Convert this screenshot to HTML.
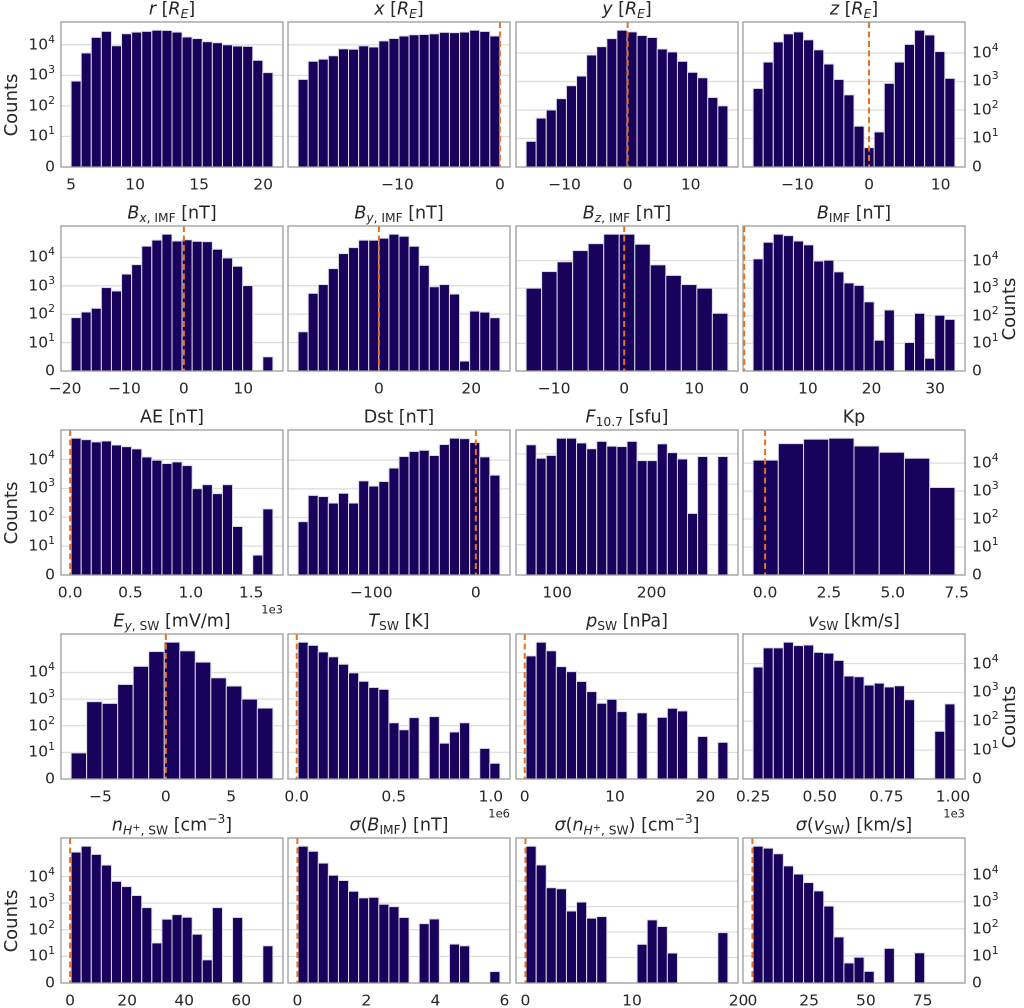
<!DOCTYPE html>
<html><head><meta charset="utf-8">
<style>
html,body{margin:0;padding:0;background:#fff;}
#wrap{position:relative;width:1024px;height:1008px;overflow:hidden;font-family:"DejaVu Sans","Liberation Sans",sans-serif;color:#262626;}
svg{position:absolute;left:0;top:0;}
.t{position:absolute;white-space:nowrap;line-height:1;}
.t sub{font-size:70%;vertical-align:-0.3em;line-height:0;}
.t sup{font-size:70%;vertical-align:0.6em;line-height:0;}
.t sub sup{font-size:80%;vertical-align:0.4em;}
</style></head>
<body>
<div id="wrap">
<svg id="svg" width="1024" height="1008"></svg>
</div>
<script>
// ---------- data (counts per bin) ----------
const countsR    = [650,5400,17500,27500,9300,23000,26000,27500,30000,29500,26000,18000,16000,12600,11700,10000,9100,8900,3100,1230];
const countsX    = [740,2900,3400,4400,7400,7200,9300,8500,13500,16200,19500,21400,21900,23000,25700,25100,26300,30200,27500,19500];
const countsY    = [9,52,100,250,710,1550,8500,16700,32000,63000,55000,41000,35000,13800,10900,5100,2100,1350,275,140];
const countsZ    = [570,4800,24500,47000,55000,29000,12900,4100,1180,340,27,6.8,17,860,4800,20000,63000,43000,11200,1290];
const countsBx   = [76,120,162,870,660,2600,5600,25000,41000,66000,38000,42000,37000,36000,19500,9600,4900,1020,0,5];
const countsBy   = [24,540,1100,4000,13500,22000,40000,40000,47000,65000,55000,24500,5200,920,1100,510,3.5,128,118,75];
const countsBz   = [1000,4000,9000,23000,41000,90000,90000,39000,7000,2900,1350,1000,123];
const countsBimf = [11500,46000,90000,80000,51000,37000,9600,10300,3900,1550,1260,320,13,162,0,10.8,123,4.6,105,74];
const countsAE   = [55000,49000,41000,44000,32000,28000,23500,12300,9500,7300,8300,6200,980,1350,660,1350,48,0,6.9,195];
const countsDst  = [72,590,540,320,700,320,1900,1250,1800,5300,13400,20000,22000,14500,35000,58000,56000,41000,13000,3000];
const countsF107 = [20000,7200,8900,33000,33000,23000,14800,26000,18000,17500,26000,6000,6000,21500,11000,6800,108,8200,0,8200];
const countsKp   = [12800,50000,72000,78000,41000,24500,15000,1350];
const countsEy   = [9.8,800,690,3550,17000,61000,137000,65000,24500,6300,3100,1000,460];
const countsTsw  = [134000,102000,58000,38000,20000,9500,4600,2700,2300,128,70,200,0,218,22,58,128,0,14,5.9];
const countsPsw  = [43000,141000,67000,17000,11000,4700,1950,710,1000,345,0,310,0,210,460,365,0,40,0,24];
const countsVsw  = [7600,35000,35000,55000,42000,44000,24500,23000,12900,3700,3500,1800,2100,1550,1700,560,0,0,45,400];
const countsNH   = [83000,138000,68000,27000,6600,4200,1940,680,32,250,370,295,68,8.7,680,0,290,0,0,25];
const countsSB   = [138000,89000,32000,11200,7100,2800,1580,1660,910,740,290,0,170,255,0,29,25,0,0,4.3];
const countsSNH  = [234000,43000,5500,5000,670,1500,350,405,0,0,0,33,300,165,15,0,0,0,0,95];
const countsSV   = [112000,95000,59000,21000,10500,5100,2500,690,50,7.4,9.5,4.3,0,19,0,0,13,0,0,0];

const binLo = [5,-19.7,-16.1,-16.2,-19,-17.5,-14,1.4,0.008,-170,67,-0.47,-7.25,0.007,0.15,0.25,0.35,0.02,0.06,0.3];
const binHi = [20.76,0,15.9,12.0,15,26.2,14.8,33.1,1.68,23,281,7.43,8.19,1.047,22.5,1.007,71.1,5.87,19,89.2];

const xTicks = [
 [5,10,15,20],[-10,0],[-10,0,10],[-10,0,10],
 [-20,-10,0,10],[0,20],[-10,0,10],[0,10,20,30],
 [0,0.5,1,1.5],[-100,0],[100,200],[0,2.5,5,7.5],
 [-5,0,5],[0,0.5,1],[0,10,20],[0.25,0.5,0.75,1],
 [0,20,40,60],[0,2,4,6],[0,10,20],[0,25,50,75]];
const xTickDigits = [0,0,0,0, 0,0,0,0, 1,0,0,1, 0,1,0,2, 0,0,0,0];
const showZeroLine = [false,true,true,true, true,true,true,true, true,true,false,true, true,true,true,false, true,true,true,true];
const offsetText = ["","","","", "","","","", "1e3","","","", "","1e6","","1e3", "","","",""];
const titles = [
 '<i>r</i> [<i>R<sub>E</sub></i>]','<i>x</i> [<i>R<sub>E</sub></i>]','<i>y</i> [<i>R<sub>E</sub></i>]','<i>z</i> [<i>R<sub>E</sub></i>]',
 '<i>B</i><sub><i>x</i>, IMF</sub> [nT]','<i>B</i><sub><i>y</i>, IMF</sub> [nT]','<i>B</i><sub><i>z</i>, IMF</sub> [nT]','<i>B</i><sub>IMF</sub> [nT]',
 'AE [nT]','Dst [nT]','<i>F</i><sub>10.7</sub> [sfu]','Kp',
 '<i>E</i><sub><i>y</i>, SW</sub> [mV/m]','<i>T</i><sub>SW</sub> [K]','<i>p</i><sub>SW</sub> [nPa]','<i>v</i><sub>SW</sub> [km/s]',
 '<i>n</i><sub><i>H</i><sup>+</sup>, SW</sub> [cm<sup>−3</sup>]','<i>σ</i>(<i>B</i><sub>IMF</sub>) [nT]','<i>σ</i>(<i>n</i><sub><i>H</i><sup>+</sup>, SW</sub>) [cm<sup>−3</sup>]','<i>σ</i>(<i>v</i><sub>SW</sub>) [km/s]'];
const panelNames = ["r","x","y","z","bx-imf","by-imf","bz-imf","b-imf","ae","dst","f107","kp","ey-sw","t-sw","p-sw","v-sw","n-h-sw","sigma-b-imf","sigma-n-h-sw","sigma-v-sw"];
const yTickValues = [0,10,100,1000,10000];
const yTickLabels = ['0','10<sup>1</sup>','10<sup>2</sup>','10<sup>3</sup>','10<sup>4</sup>'];
const allCounts = [countsR,countsX,countsY,countsZ,countsBx,countsBy,countsBz,countsBimf,countsAE,countsDst,countsF107,countsKp,countsEy,countsTsw,countsPsw,countsVsw,countsNH,countsSB,countsSNH,countsSV];

// ---------- layout ----------
const colX = [61,288,516,743], PW = 222;
const rowY = [22,226,430,634,838], PH = 145;
const NS = "http://www.w3.org/2000/svg";
const svg = document.getElementById('svg');
const wrap = document.getElementById('wrap');
const BAR = '#19025c', ORANGE = '#e8711e';

function symT(v){ return v<=0?0:(v<10? v/10 : Math.log10(v)); }
function fmt(v,d){ let s=v.toFixed(d); return v<0? '−'+s.slice(1):s; }
function mk(tag,attrs){ const e=document.createElementNS(NS,tag); for(const k in attrs) e.setAttribute(k,attrs[k]); svg.appendChild(e); return e; }
function txt(html,x,y,size,align,extra){
  const d=document.createElement('div'); d.className='t'; d.innerHTML=html;
  d.style.fontSize=size+'px'; d.style.left=x+'px'; d.style.top=y+'px';
  let tx = align==='center'?'-50%':(align==='right'?'-100%':'0');
  d.style.transform='translate('+tx+',-50%)'+(extra||'');
  wrap.appendChild(d); return d;
}

allCounts.forEach((counts,p)=>{
  const r=Math.floor(p/4), c=p%4;
  const X0=colX[c], Y0=rowY[r];
  const lo=binLo[p], hi=binHi[p], n=counts.length, w=(hi-lo)/n;
  const m=(hi-lo)*0.05, xmin=lo-m, xmax=hi+m;
  const sx=v=>X0+(v-xmin)/(xmax-xmin)*PW;
  const maxT=Math.max(...counts.map(symT));
  const top=maxT*1.06;
  const sy=v=>Y0+PH-symT(v)/top*PH;

  for(let k=1;k<yTickValues.length;k++){
    const yy=sy(yTickValues[k]); if(yy<Y0) continue;
    const g=mk('line',{x1:X0,x2:X0+PW,y1:yy,y2:yy,stroke:'#dcdcdc','stroke-width':1.2});
    
    
  }
  counts.forEach((v,i)=>{
    if(v<=0) return;
    const x1=sx(lo+i*w), x2=sx(lo+(i+1)*w), yy=sy(v);
    const b=mk('rect',{x:x1,y:yy,width:x2-x1,height:Y0+PH-yy,fill:BAR,stroke:'#dcdce6','stroke-width':1});
    
    
  });
  if(showZeroLine[p]){
    const zx=sx(0);
    const zl=mk('line',{x1:zx,x2:zx,y1:Y0,y2:Y0+PH,stroke:ORANGE,'stroke-width':2,'stroke-dasharray':'6,3.5'});
    
    
  }
  const f=mk('rect',{x:X0,y:Y0,width:PW,height:PH,fill:'none',stroke:'#9a9a9a','stroke-width':1.3});
  
  
  const t=txt(titles[p],X0+PW/2,Y0-12,17.5,'center');
  
  
  xTicks[p].forEach(v=>{
    const xx=sx(v);
    const l=txt(fmt(v,xTickDigits[p]),xx,Y0+PH+18,15.5,'center');
    
    
  });
  if(offsetText[p]){
    const o=txt(offsetText[p],X0+PW,Y0+PH+35,11.5,'right');
    
    
  }
  if(c===0||c===3){
    yTickValues.forEach((v,k)=>{
      const yy=sy(v);
      const l = c===0 ? txt(yTickLabels[k],X0-6,yy,15.5,'right') : txt(yTickLabels[k],X0+PW+7,yy,15.5,'left');
      
      
    });
  }
  if((c===0 && r%2===0)||(c===3 && r%2===1)){
    const cx = c===0 ? 12 : 1010;
    const a=txt('Counts',cx,Y0+PH/2+10,18,'center');
    a.style.transform='translate(-50%,-50%) rotate(-90deg)';
    a.style.transformOrigin='50% 50%';
    
    
  }
});
</script>
</body></html>
